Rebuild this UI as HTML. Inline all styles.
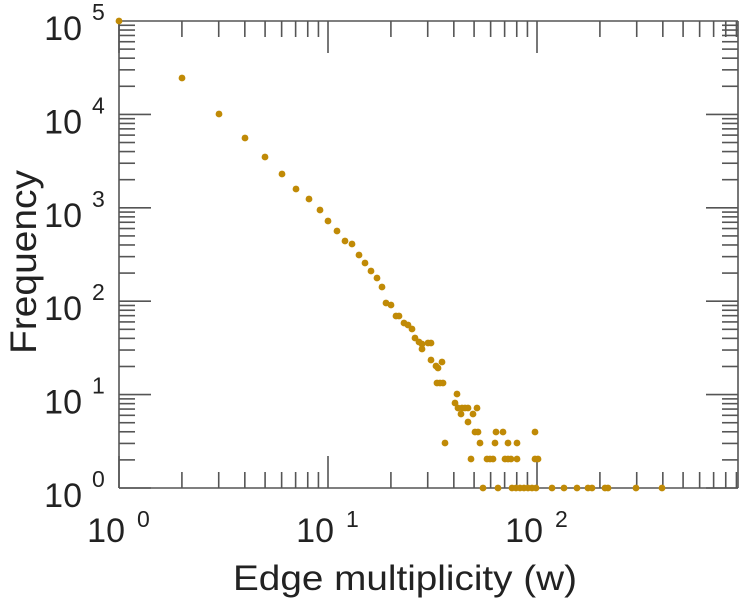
<!DOCTYPE html>
<html><head><meta charset="utf-8"><style>html,body{margin:0;padding:0;background:#fff}svg{display:block}</style></head>
<body>
<svg id="s" width="749" height="600" xmlns="http://www.w3.org/2000/svg" font-family="Liberation Sans, sans-serif" fill="#222">
<g id="ax" stroke="#555" stroke-width="1.6" fill="none"></g>
<g id="pts" fill="#c08a06"></g>
<g id="lbl"></g>
<text x="36" y="262" font-size="37" text-anchor="middle" transform="rotate(-90 36 262)" textLength="184" lengthAdjust="spacingAndGlyphs">Frequency</text>
<text x="405" y="590" font-size="35" text-anchor="middle" textLength="344" lengthAdjust="spacingAndGlyphs">Edge multiplicity (w)</text>
</svg>
<script>
const L=119,R=738,T=21,B=488,DX=209,DY=93.4;
const NS="http://www.w3.org/2000/svg";
const ax=document.getElementById('ax'),lbl=document.getElementById('lbl'),pts=document.getElementById('pts');
function ln(x1,y1,x2,y2){const e=document.createElementNS(NS,'line');e.setAttribute('x1',x1);e.setAttribute('y1',y1);e.setAttribute('x2',x2);e.setAttribute('y2',y2);ax.appendChild(e);}
ln(L,T,R,T);ln(L,B,R,B);ln(L,T,L,B);ln(R,T,R,B);
for(let d=0;d<3;d++)for(let k=1;k<10;k++){const x=L+DX*(d+Math.log10(k));if(x>R)continue;const len=k==1?32:16;ln(x,B,x,B-len);ln(x,T,x,T+len);}
for(let d=0;d<5;d++)for(let k=1;k<10;k++){const y=B-DY*(d+Math.log10(k));const len=k==1?32:16;ln(L,y,L+len,y);ln(R,y,R-len,y);}
function txt(x,y,s,fs,anchor){const e=document.createElementNS(NS,'text');e.setAttribute('x',x);e.setAttribute('y',y);e.setAttribute('font-size',fs);if(anchor)e.setAttribute('text-anchor',anchor);e.textContent=s;lbl.appendChild(e);}
for(let d=0;d<=5;d++){const y=B-DY*d;txt(82,y+19,'10',34,'end');txt(92,y-1,String(d),23);}
for(let d=0;d<=2;d++){const x=L+DX*d;txt(x+6,542,'10',34,'end');txt(x+18,527,String(d),23);}
const P=[[119,21],[182,78],[219,114],[245,138],[265,157],[282,174],[296,189],[309,199],[320,210],[328,221],[337,231],[345,241],[352,244],[359,255],[365,263],[371,271],[377,278],[382,287],[386,303],[391,305],[396,316],[399,316],[404,323],[408,325],[412,329],[415,338],[419,342],[422,344],[428,343],[431,343],[422,349],[431,360],[436,366],[438,368],[442,362],[437,383],[440,383],[443,383],[455,403],[457,394],[458,408],[462,408],[465,408],[468,408],[477,408],[461,414],[473,414],[468,422],[475,432],[478,432],[496,432],[503,432],[535,432],[445,443],[480,443],[495,443],[508,443],[517,443],[471,459],[487,459],[490,459],[493,459],[505,459],[508,459],[511,459],[517,459],[535,459],[538,459],
[483,488],[498,488],[512,488],[516,488],[520,488],[524,488],[528,488],[532,488],[536,488],[552,488],[564,488],[577,488],[588,488],[592,488],[605,488],[608,488],[636,488],[662,488]];
for(const [x,y] of P){const c=document.createElementNS(NS,'circle');c.setAttribute('cx',x);c.setAttribute('cy',y);c.setAttribute('r',3.4);pts.appendChild(c);}
</script>
</body></html>
